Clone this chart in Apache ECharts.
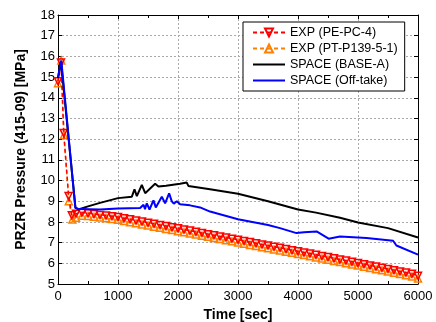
<!DOCTYPE html>
<html>
<head>
<meta charset="utf-8">
<script src="https://cdn.jsdelivr.net/npm/echarts@6/dist/echarts.min.js"></script>
<style>
  html, body { margin: 0; padding: 0; background: #fff; }
  #chart { width: 436px; height: 322px; }
</style>
</head>
<body>
<div id="chart"></div>
<script>
// EXP (PE-PC-4)
const peTime = [0, 50, 95, 177, 230, 300, 400, 500, 600, 700, 800, 900, 1000, 1100, 1200, 1300, 1400, 1500, 1600, 1700, 1800, 1900, 2000, 2100, 2200, 2300, 2400, 2500, 2600, 2700, 2800, 2900, 3000, 3100, 3200, 3300, 3400, 3500, 3600, 3700, 3800, 3900, 4000, 4100, 4200, 4300, 4400, 4500, 4600, 4700, 4800, 4900, 5000, 5100, 5200, 5300, 5400, 5500, 5600, 5700, 5800, 5900, 6000];
const pePress = [14.8, 15.7, 12.3, 9.25, 8.32, 8.4, 8.45, 8.42, 8.38, 8.34, 8.31, 8.28, 8.24, 8.18, 8.13, 8.07, 8.02, 7.96, 7.91, 7.85, 7.8, 7.74, 7.69, 7.63, 7.58, 7.52, 7.47, 7.41, 7.36, 7.3, 7.25, 7.19, 7.14, 7.08, 7.03, 6.97, 6.91, 6.86, 6.8, 6.75, 6.69, 6.63, 6.58, 6.52, 6.47, 6.41, 6.35, 6.3, 6.24, 6.18, 6.13, 6.07, 6.01, 5.96, 5.9, 5.84, 5.78, 5.73, 5.67, 5.61, 5.55, 5.49, 5.4];

// EXP (PT-P139-5-1)
const ptTime = [0, 55, 100, 180, 240, 300, 400, 500, 600, 700, 800, 900, 1000, 1100, 1200, 1300, 1400, 1500, 1600, 1700, 1800, 1900, 2000, 2100, 2200, 2300, 2400, 2500, 2600, 2700, 2800, 2900, 3000, 3100, 3200, 3300, 3400, 3500, 3600, 3700, 3800, 3900, 4000, 4100, 4200, 4300, 4400, 4500, 4600, 4700, 4800, 4900, 5000, 5100, 5200, 5300, 5400, 5500, 5600, 5700, 5800, 5900, 6000];
const ptPress = [14.7, 15.8, 12.2, 9.0, 8.12, 8.2, 8.3, 8.29, 8.25, 8.21, 8.18, 8.14, 8.1, 8.05, 7.99, 7.94, 7.88, 7.83, 7.77, 7.72, 7.66, 7.61, 7.55, 7.5, 7.44, 7.39, 7.33, 7.28, 7.22, 7.17, 7.11, 7.06, 7.0, 6.95, 6.89, 6.84, 6.78, 6.73, 6.67, 6.62, 6.56, 6.51, 6.45, 6.4, 6.34, 6.28, 6.23, 6.17, 6.11, 6.06, 6.0, 5.94, 5.89, 5.83, 5.77, 5.71, 5.66, 5.6, 5.54, 5.48, 5.42, 5.36, 5.26];

// SPACE (BASE-A)
const baseTime = [0, 50, 290, 340, 500, 700, 1000, 1231, 1275, 1314, 1397, 1453, 1619, 1674, 1800, 2035, 2146, 2173, 2534, 3000, 3500, 4000, 4300, 4700, 5000, 5500, 6000];
const basePress = [14.95, 15.75, 8.7, 8.6, 8.75, 8.92, 9.15, 9.22, 9.58, 9.25, 9.79, 9.39, 9.84, 9.71, 9.75, 9.84, 9.9, 9.74, 9.58, 9.36, 9.0, 8.6, 8.45, 8.2, 7.97, 7.7, 7.25];

// SPACE (Off-take)
const offTime = [0, 55, 290, 350, 700, 1000, 1369, 1425, 1450, 1480, 1525, 1591, 1630, 1730, 1785, 1852, 1897, 1930, 1980, 2035, 2200, 2368, 2534, 3000, 3500, 3700, 3975, 4100, 4310, 4510, 4700, 5143, 5585, 5640, 6000];
const offPress = [15.0, 15.8, 8.67, 8.62, 8.6, 8.65, 8.67, 8.83, 8.62, 8.9, 8.6, 9.04, 8.7, 9.22, 8.9, 9.38, 8.99, 8.88, 9.0, 8.85, 8.8, 8.7, 8.5, 8.13, 7.85, 7.7, 7.46, 7.5, 7.54, 7.19, 7.3, 7.22, 7.09, 6.86, 6.42];

const seriesNames = ['EXP (PE-PC-4)', 'EXP (PT-P139-5-1)', 'SPACE (BASE-A)', 'SPACE (Off-take)'];

const zip = (xs, ys) => xs.map((x, i) => [x, ys[i]]);

const chart = echarts.init(document.getElementById('chart'), null, { renderer: 'canvas' });

const fontFamily = 'Liberation Sans, Arial, sans-serif';
const gridLine = { show: true, lineStyle: { color: '#aaa', type: [2, 2], width: 1 } };
const tick = { show: true, inside: true, length: 4, lineStyle: { color: '#000' } };

chart.setOption({
  animation: false,
  backgroundColor: '#fff',
  grid: { left: 58, right: 18, top: 15, bottom: 38, outerBoundsMode: 'none' },
  legend: {
    orient: 'vertical',
    left: 243,
    top: 22,
    data: [
      { name: seriesNames[0] },
      { name: seriesNames[1] },
      { name: seriesNames[2], itemStyle: { opacity: 0 } },
      { name: seriesNames[3], itemStyle: { opacity: 0 } },
    ],
    backgroundColor: '#fff',
    borderColor: '#000',
    borderWidth: 1,
    borderRadius: 0,
    padding: [4, 7, 4, 9],
    itemGap: 3,
    itemWidth: 32,
    itemHeight: 10,
    textStyle: { fontFamily, fontSize: 12.5, color: '#000' },
  },
  xAxis: [
    {
      type: 'value',
      min: 0,
      max: 6000,
      interval: 1000,
      name: 'Time [sec]',
      nameLocation: 'middle',
      nameGap: 19,
      nameTextStyle: { fontFamily, fontSize: 14, fontWeight: 'bold', color: '#000' },
      axisLine: { show: true, lineStyle: { color: '#000', width: 1 } },
      axisTick: tick,
      minorTick: { show: true, splitNumber: 2, length: 3, lineStyle: { color: '#000' } },
      axisLabel: { fontFamily, fontSize: 13, color: '#000', margin: 6, formatter: (v) => String(v) },
      splitLine: gridLine,
    },
    {
      type: 'value',
      position: 'top',
      min: 0,
      max: 6000,
      interval: 1000,
      axisLine: { show: true, onZero: false, lineStyle: { color: '#000', width: 1 } },
      axisTick: tick,
      minorTick: { show: true, splitNumber: 2, length: 3, lineStyle: { color: '#000' } },
      axisLabel: { show: false },
      splitLine: { show: false },
    },
  ],
  yAxis: [
    {
      type: 'value',
      min: 5,
      max: 18,
      interval: 1,
      name: 'PRZR Pressure (415-09) [MPa]',
      nameLocation: 'middle',
      nameGap: 30,
      nameTextStyle: { fontFamily, fontSize: 14, fontWeight: 'bold', color: '#000' },
      axisLine: { show: true, lineStyle: { color: '#000', width: 1 } },
      axisTick: tick,
      axisLabel: { fontFamily, fontSize: 13, color: '#000', margin: 3 },
      splitLine: gridLine,
    },
    {
      type: 'value',
      position: 'right',
      min: 5,
      max: 18,
      interval: 1,
      axisLine: { show: true, onZero: false, lineStyle: { color: '#000', width: 1 } },
      axisTick: tick,
      axisLabel: { show: false },
      splitLine: { show: false },
    },
  ],
  series: [
    {
      name: seriesNames[1],
      type: 'line',
      data: zip(ptTime, ptPress),
      symbol: 'triangle',
      symbolSize: 7,
      z: 2,
      itemStyle: { color: 'rgba(255,255,255,0)', borderColor: '#ff8000', borderWidth: 1.5 },
      lineStyle: { color: '#ff8000', width: 1.5, type: [4, 3] },
    },
    {
      name: seriesNames[0],
      type: 'line',
      data: zip(peTime, pePress),
      symbol: 'triangle',
      symbolRotate: 180,
      symbolSize: 7,
      z: 3,
      itemStyle: { color: 'rgba(255,255,255,0)', borderColor: '#ff0000', borderWidth: 1.5 },
      lineStyle: { color: '#ff0000', width: 1.5, type: [4, 3] },
    },
    {
      name: seriesNames[2],
      type: 'line',
      data: zip(baseTime, basePress),
      symbol: 'none',
      z: 4,
      lineStyle: { color: '#000', width: 2 },
      itemStyle: { color: '#000' },
    },
    {
      name: seriesNames[3],
      type: 'line',
      data: zip(offTime, offPress),
      symbol: 'none',
      z: 5,
      lineStyle: { color: '#0000ff', width: 2 },
      itemStyle: { color: '#0000ff' },
    },
  ],
});
</script>
</body>
</html>
